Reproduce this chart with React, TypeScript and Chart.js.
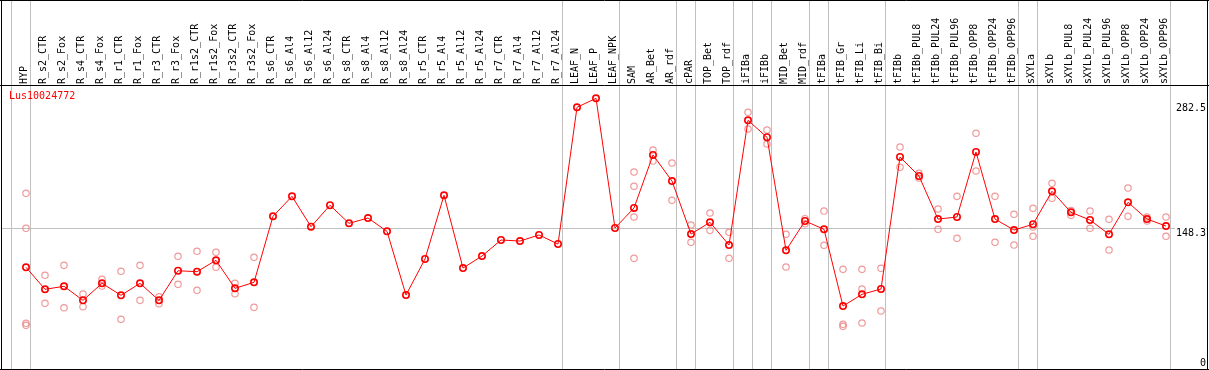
import React, { useEffect, useRef } from "react";
import { Chart, registerables } from "chart.js";

Chart.register(...registerables);

const title = "Lus10024772";

const categories = [
  "HYP", "R_s2_CTR", "R_s2_Fox", "R_s4_CTR", "R_s4_Fox", "R_r1_CTR", "R_r1_Fox",
  "R_r3_CTR", "R_r3_Fox", "R_r1s2_CTR", "R_r1s2_Fox", "R_r3s2_CTR", "R_r3s2_Fox",
  "R_s6_CTR", "R_s6_Al4", "R_s6_Al12", "R_s6_Al24", "R_s8_CTR", "R_s8_Al4", "R_s8_Al12",
  "R_s8_Al24", "R_r5_CTR", "R_r5_Al4", "R_r5_Al12", "R_r5_Al24", "R_r7_CTR", "R_r7_Al4",
  "R_r7_Al12", "R_r7_Al24", "LEAF_N", "LEAF_P", "LEAF_NPK", "SAM", "AR_Bet", "AR_rdf",
  "cPAR", "TOP_Bet", "TOP_rdf", "iFIBa", "iFIBb", "MID_Bet", "MID_rdf", "tFIBa",
  "tFIB_Gr", "tFIB_Li", "tFIB_Bi", "tFIBb", "tFIBb_PUL8", "tFIBb_PUL24", "tFIBb_PUL96",
  "tFIBb_OPP8", "tFIBb_OPP24", "tFIBb_OPP96", "sXYLa", "sXYLb", "sXYLb_PUL8",
  "sXYLb_PUL24", "sXYLb_PUL96", "sXYLb_OPP8", "sXYLb_OPP24", "sXYLb_OPP96",
];

const means = [
  106.1, 82.5, 85.7, 70.6, 88.9, 76.0, 88.9, 70.6, 102.4, 101.4, 113.6, 83.5, 90.0,
  160.8, 182.3, 149.7, 172.7, 153.3, 159.0, 144.7, 76.3, 115.0, 183.4, 105.3, 118.2,
  135.4, 134.3, 140.8, 131.1, 277.9, 287.5, 148.3,
  169.8, 226.7, 198.7, 141.8, 154.4, 130.0, 263.9, 245.7, 124.3, 155.8, 146.9, 64.5,
  77.1, 82.8, 224.5,
  204.1, 157.9, 160.1, 229.9, 157.9, 146.1, 152.3, 187.7, 165.1, 156.9, 141.5, 175.9,
  157.9, 150.4,
];

const replicates: number[][] = [
  [185.5, 148.0, 46.0, 43.8], [97.5, 67.4], [108.2, 62.7], [77.4, 63.8], [93.2, 86.0],
  [101.8, 50.2], [108.2, 70.6], [74.5, 67.0], [117.9, 87.8], [123.3, 81.4],
  [122.2, 106.1], [88.9, 77.7], [116.8, 63.1],
  [], [], [], [], [], [], [], [], [], [], [], [], [], [], [], [], [], [], [],
  [208.4, 193.1, 160.1, 115.7], [232.0, 220.2], [218.1, 178.0], [151.5, 132.9],
  [164.4, 145.8], [143.7, 115.7], [272.5, 254.6], [253.5, 238.5], [141.5, 106.4],
  [158.3, 152.9], [166.5, 129.7], [103.9, 44.9, 42.7], [103.9, 82.8, 46.3],
  [105.0, 59.2], [235.2, 213.4], [207.0, 202.0], [168.7, 146.9], [182.3, 137.2],
  [250.0, 209.5], [182.3, 132.9], [163.0, 130.0], [169.4, 149.3, 139.4],
  [196.3, 180.2], [166.9, 161.9], [166.5, 148.0], [157.6, 124.7], [191.2, 160.8],
  [160.1, 155.8], [160.1, 139.4],
];

// index of the last category of each group (-1 = left edge)
const groupEnds = [-1, 0, 28, 31, 34, 35, 37, 38, 39, 41, 42, 45, 52, 53, 60];
const yTicks = [0, 148.3, 282.5];
const yTickLabels = ["0", "148.3", "282.5"];
const gridValue = 148.3;

const FONT = "10px 'DejaVu Sans Mono', monospace";

const decorPlugin = {
  id: "decor",
  beforeDatasetsDraw(chart: any) {
    const ctx = chart.ctx;
    const xs = chart.scales.x;
    const ys = chart.scales.y;
    const W = chart.width;
    ctx.save();
    // vertical group lines
    ctx.strokeStyle = "#c0c0c0";
    ctx.lineWidth = 1;
    groupEnds.forEach((g) => {
      const x = Math.round(xs.getPixelForValue(g + 0.22)) + 0.5;
      ctx.beginPath();
      ctx.moveTo(x, 0);
      ctx.lineTo(x, 369);
      ctx.stroke();
    });
    // horizontal grid line
    const gy = Math.round(ys.getPixelForValue(gridValue)) + 0.5;
    ctx.beginPath();
    ctx.moveTo(1, gy);
    ctx.lineTo(1207, gy);
    ctx.stroke();
    // header labels
    ctx.fillStyle = "#000000";
    ctx.font = FONT;
    ctx.textAlign = "left";
    ctx.textBaseline = "middle";
    categories.forEach((c, i) => {
      const x = xs.getPixelForValue(i) - 1.5;
      ctx.save();
      ctx.translate(x, 84);
      ctx.rotate(-Math.PI / 2);
      ctx.fillText(c, 0, 0);
      ctx.restore();
    });
    // frame
    ctx.strokeStyle = "#000000";
    ctx.beginPath();
    ctx.moveTo(1.5, 0);
    ctx.lineTo(1.5, 370);
    ctx.moveTo(1207.5, 0);
    ctx.lineTo(1207.5, 370);
    ctx.moveTo(0, 0.5);
    ctx.lineTo(W, 0.5);
    ctx.moveTo(0, 85.5);
    ctx.lineTo(W, 85.5);
    ctx.moveTo(0, 369.5);
    ctx.lineTo(W, 369.5);
    ctx.stroke();
    ctx.restore();
  },
  afterDatasetsDraw(chart: any) {
    const ctx = chart.ctx;
    const ys = chart.scales.y;
    ctx.save();
    ctx.font = FONT;
    ctx.textBaseline = "top";
    // title
    ctx.fillStyle = "#ff0000";
    ctx.textAlign = "left";
    ctx.fillText(title, 9, 91);
    // right axis labels
    ctx.textAlign = "right";
    yTicks.forEach((v, k) => {
      const y = Math.min(ys.getPixelForValue(v), 358);
      const label = yTickLabels[k];
      const w = ctx.measureText(label).width;
      ctx.fillStyle = "#ffffff";
      ctx.fillRect(1206 - w - 1, y, w + 1, 10);
      ctx.fillStyle = "#000000";
      ctx.fillText(label, 1206, y);
    });
    ctx.restore();
  },
};

export default function App() {
  const ref = useRef<HTMLCanvasElement | null>(null);
  useEffect(() => {
    document.body.style.margin = "0";
    const canvas = ref.current;
    if (!canvas) return;
    const repPoints: { x: number; y: number }[] = [];
    replicates.forEach((arr, i) => arr.forEach((v) => repPoints.push({ x: i, y: v })));
    const meanPoints = means.map((v, i) => ({ x: i, y: v }));
    const chart = new Chart(canvas, {
      type: "line",
      data: {
        datasets: [
          {
            label: "mean",
            data: meanPoints,
            borderColor: "#ff0000",
            borderWidth: 1,
            pointRadius: 3.2,
            pointBorderWidth: 1.6,
            pointBorderColor: "#ff0000",
            pointBackgroundColor: "rgba(0,0,0,0)",
            backgroundColor: "rgba(0,0,0,0)",
            tension: 0,
            order: 0,
          },
          {
            label: "replicates",
            data: repPoints,
            showLine: false,
            pointRadius: 3.2,
            pointBorderWidth: 1.2,
            pointBorderColor: "rgba(235,120,120,0.75)",
            pointBackgroundColor: "rgba(0,0,0,0)",
            borderColor: "rgba(0,0,0,0)",
            order: 1,
          },
        ],
      },
      options: {
        responsive: false,
        animation: false,
        devicePixelRatio: 1,
        layout: { autoPadding: false, padding: { left: 1, right: 2, top: 85, bottom: 1 } },
        plugins: { legend: { display: false }, tooltip: { enabled: false } },
        scales: {
          x: { type: "linear", min: -1.3158, max: 62.1579, display: false },
          y: { type: "linear", min: -3.08, max: 301.82, display: false },
        },
      },
      plugins: [decorPlugin],
    });
    return () => chart.destroy();
  }, []);
  return (
    <canvas
      ref={ref}
      width={1209}
      height={370}
      style={{ display: "block", position: "absolute", left: 0, top: 0, width: 1209, height: 370 }}
    />
  );
}
